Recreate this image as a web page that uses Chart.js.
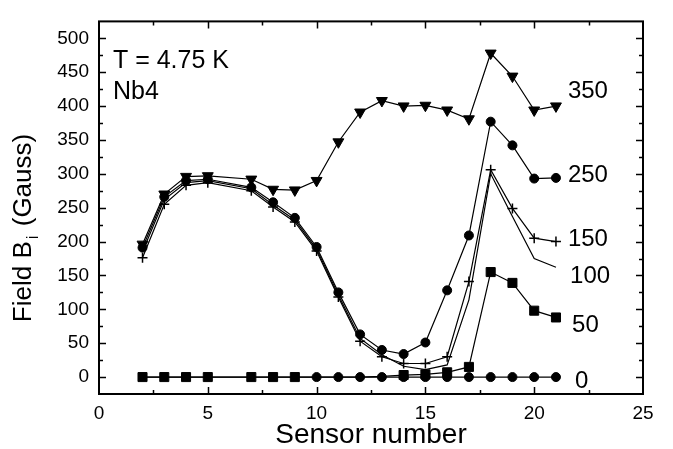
<!DOCTYPE html>
<html>
<head>
<meta charset="utf-8">
<script src="https://cdn.jsdelivr.net/npm/chart.js@4/dist/chart.umd.min.js"></script>
<style>
  html, body { margin: 0; padding: 0; background: #fff; }
  canvas { display: block; }
</style>
</head>
<body>
<canvas id="c" width="673" height="449"></canvas>
<script>
// Sensor positions along the sample (sensor 6 has no reading)
const sensors = [2, 3, 4, 5, 7, 8, 9, 10, 11, 12, 13, 14, 15, 16, 17, 18, 19, 20, 21];

// Local field B_i (Gauss) at each sensor, one series per applied field
const field350 = [196, 270, 296, 297, 292, 277, 276, 290, 347, 391, 408, 400, 401, 394, 381, 478, 444, 394, 400];
const field250 = [191, 266, 290, 292, 280, 258, 235, 192, 125, 63, 40, 34, 51, 128, 209, 377, 342, 293, 294];
const field150 = [176, 255, 283, 287, 275, 251, 229, 186, 118, 53, 30, 20, 20, 30, 141, 306, 249, 205, 200];
const field100 = [185, 262, 287, 290, 278, 254, 232, 189, 121, 57, 33, 16, 11, 18, 114, 300, 237, 175, 162];
const field50  = [0, 0, 0, 0, 0, 0, 0, 0, 0, 0, 1, 3, 4, 7, 15, 155, 139, 98, 88];
const field0   = [0, 0, 0, 0, 0, 0, 0, 0, 0, 0, 0, 0, 0, 0, 0, 0, 0, 0, 0];

// Applied-field labels written next to each curve
const fieldNames = ['350', '250', '150', '100', '50', '0'];

// Axis tick values
const xTicks = [0, 5, 10, 15, 20, 25];
const yTicks = [0, 50, 100, 150, 200, 250, 300, 350, 400, 450, 500];

const FONT = "'Liberation Sans', Arial, Helvetica, sans-serif";
const INK = '#000';

const pts = vals => sensors.map((s, i) => ({ x: s, y: vals[i] }));

function series(vals, style, radius, extra) {
  return Object.assign({
    data: pts(vals),
    borderColor: INK,
    backgroundColor: INK,
    borderWidth: 1.2,
    pointStyle: style,
    pointRadius: radius,
    pointBorderColor: INK,
    pointBackgroundColor: INK,
    pointBorderWidth: 1,
    tension: 0,
    fill: false
  }, extra || {});
}

// Inward ticks on all four sides plus the box frame
const frameTicks = {
  id: 'frameTicks',
  afterDraw(chart) {
    const { ctx, chartArea: a, scales: { x, y } } = chart;
    ctx.save();
    ctx.strokeStyle = INK;
    ctx.lineWidth = 1.5;
    ctx.beginPath();
    for (let v = 0; v <= 25; v += 2.5) {
      if (v === 0 || v === 25) continue;
      const px = Math.round(x.getPixelForValue(v)) + 0.5;
      const len = (v % 5 === 0) ? 7 : 4;
      ctx.moveTo(px, a.bottom); ctx.lineTo(px, a.bottom - len);
      ctx.moveTo(px, a.top); ctx.lineTo(px, a.top + len);
    }
    for (let v = 0; v <= 500; v += 25) {
      const py = Math.round(y.getPixelForValue(v)) + 0.5;
      const len = (v % 50 === 0) ? 7 : 4;
      ctx.moveTo(a.left, py); ctx.lineTo(a.left + len, py);
      ctx.moveTo(a.right, py); ctx.lineTo(a.right - len, py);
    }
    ctx.stroke();
    ctx.lineWidth = 2;
    ctx.strokeRect(a.left, a.top, a.right - a.left, a.bottom - a.top);
    ctx.restore();
  }
};

// Text inside the plot and the y-axis title with its subscript
const labels = {
  id: 'labels',
  afterDraw(chart) {
    const { ctx, scales: { x, y } } = chart;
    ctx.save();
    ctx.fillStyle = INK;
    ctx.textBaseline = 'middle';
    ctx.textAlign = 'left';
    ctx.font = `25px ${FONT}`;
    ctx.fillText('T = 4.75 K', x.getPixelForValue(0.64), y.getPixelForValue(466));
    ctx.fillText('Nb4', x.getPixelForValue(0.64), y.getPixelForValue(421));

    ctx.font = `24px ${FONT}`;
    const anchors = [[21.55, 422], [21.55, 297], [21.55, 203], [21.65, 149], [21.74, 77], [21.88, -7]];
    fieldNames.forEach((t, i) => {
      ctx.fillText(t, x.getPixelForValue(anchors[i][0]), y.getPixelForValue(anchors[i][1]));
    });

    // y-axis title, rotated
    ctx.translate(24, 228);
    ctx.rotate(-Math.PI / 2);
    const big = `26px ${FONT}`, small = `17px ${FONT}`;
    const p1 = 'Field B', p2 = 'i', p3 = ' (Gauss)';
    ctx.font = big; const w1 = ctx.measureText(p1).width, w3 = ctx.measureText(p3).width;
    ctx.font = small; const w2 = ctx.measureText(p2).width + 4;
    let sx = -(w1 + w2 + w3) / 2;
    ctx.font = big; ctx.fillText(p1, sx, 0); sx += w1 + 2;
    ctx.font = small; ctx.fillText(p2, sx, 9); sx += w2 - 2;
    ctx.font = big; ctx.fillText(p3, sx, 0);
    ctx.restore();
  }
};

new Chart(document.getElementById('c'), {
  type: 'line',
  data: {
    datasets: [
      series(field0, 'circle', sensors.map(s => s >= 10 ? 4.5 : 0)),
      series(field50, 'rect', sensors.map(s => (s >= 10 && s <= 13) ? 0 : 6.4)),
      series(field100, 'circle', 0),
      series(field150, 'cross', 5, { pointBorderWidth: 1.5 }),
      series(field250, 'circle', 4.5),
      series(field350, 'triangle', 6.3, { pointRotation: 180 })
    ]
  },
  options: {
    responsive: false,
    devicePixelRatio: 1,
    animation: false,
    events: [],
    layout: { padding: { left: 0, right: 30, top: 9, bottom: 0 } },
    plugins: { legend: { display: false }, tooltip: { enabled: false } },
    scales: {
      x: {
        type: 'linear',
        min: 0, max: 25,
        afterBuildTicks: s => { s.ticks = xTicks.map(v => ({ value: v })); },
        afterFit: s => { s.height = 55; },
        grid: { display: false, drawTicks: false },
        border: { display: false },
        ticks: { color: INK, padding: 8, font: { family: FONT, size: 19 } },
        title: {
          display: true, text: 'Sensor number', color: INK,
          padding: { top: 0, bottom: 0 },
          font: { family: FONT, size: 28, lineHeight: 1 }
        }
      },
      y: {
        min: -25, max: 525,
        afterBuildTicks: s => { s.ticks = yTicks.map(v => ({ value: v })); },
        afterFit: s => { s.width = 99; },
        grid: { display: false, drawTicks: false },
        border: { display: false },
        ticks: { color: INK, padding: 10, font: { family: FONT, size: 19 } }
      }
    }
  },
  plugins: [frameTicks, labels]
});
</script>
</body>
</html>
